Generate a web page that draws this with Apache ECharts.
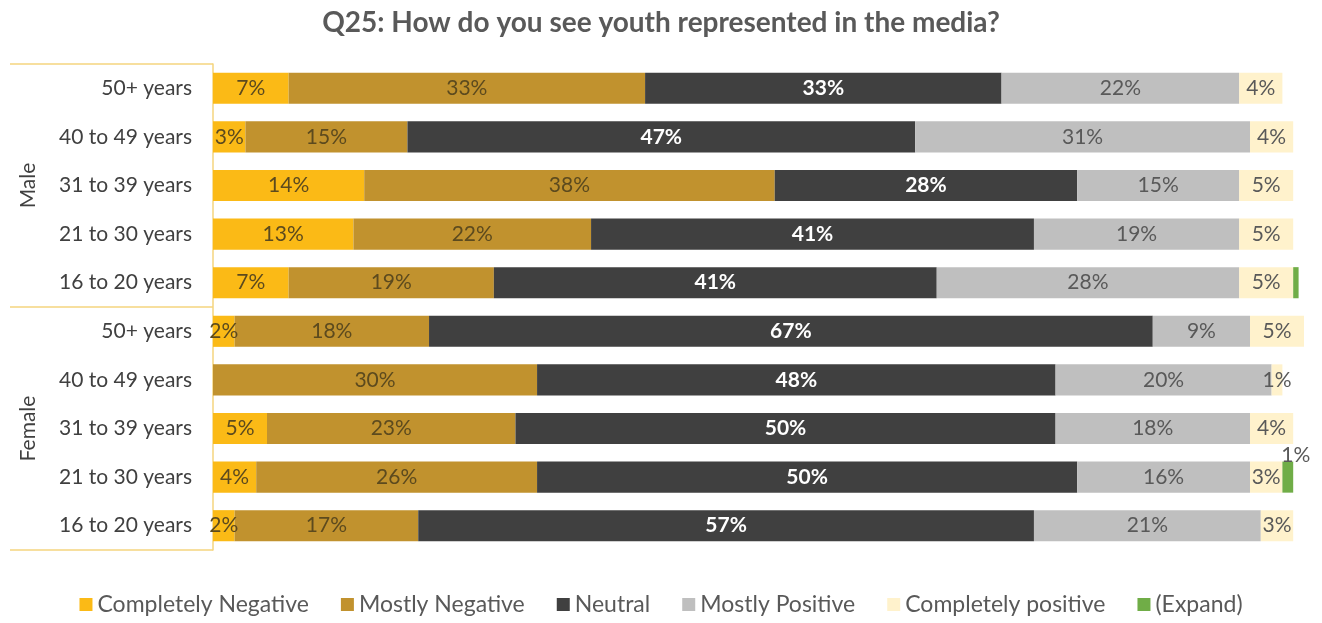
<!DOCTYPE html>
<html>
<head>
<meta charset="utf-8">
<script src="https://cdn.jsdelivr.net/npm/echarts@6/dist/echarts.min.js"></script>
<style>
  html, body { margin: 0; padding: 0; background: #fff; }
  #chart { width: 1322px; height: 623px; }
</style>
</head>
<body>
<div id="chart"></div>
<script>
// Age bands, top to bottom (Male block, then Female block)
const ageLabels = [
  '50+ years', '40 to 49 years', '31 to 39 years', '21 to 30 years', '16 to 20 years',
  '50+ years', '40 to 49 years', '31 to 39 years', '21 to 30 years', '16 to 20 years'
];
const groups = ['Male', 'Female'];

// Share of respondents (%) per answer, same row order as ageLabels
const completelyNegative = [7, 3, 14, 13, 7, 2, 0, 5, 4, 2];
const mostlyNegative     = [33, 15, 38, 22, 19, 18, 30, 23, 26, 17];
const neutral            = [33, 47, 28, 41, 41, 67, 48, 50, 50, 57];
const mostlyPositive     = [22, 31, 15, 19, 28, 9, 20, 18, 16, 21];
const completelyPositive = [4, 4, 5, 5, 5, 5, 1, 4, 3, 3];
const expand             = [0, 0, 0, 0, 0.5, 0, 0, 0, 1, 0];
const expandLabelled     = [false, false, false, false, false, false, false, false, true, false];

const FONT = 'Lato, "Open Sans", sans-serif';
const gold = '#F5D47E';

function pct(p) { return p.value ? p.value + '%' : ''; }

function segment(name, data, color, labelColor, bold) {
  return {
    name: name,
    type: 'bar',
    stack: 'total',
    data: data,
    barCategoryGap: '36%',
    itemStyle: { color: color },
    label: {
      show: true,
      position: 'inside',
      formatter: pct,
      color: labelColor,
      fontFamily: FONT,
      fontSize: 21,
      fontWeight: bold ? 'bold' : 'normal'
    },
    emphasis: { disabled: true }
  };
}

const chart = echarts.init(document.getElementById('chart'));
chart.setOption({
  animation: false,
  title: {
    text: 'Q25: How do you see youth represented in the media?',
    left: 656,
    textAlign: 'center',
    top: 4,
    textStyle: { fontFamily: FONT, fontSize: 28, fontWeight: 'bold', color: '#595959' }
  },
  legend: {
    bottom: 2,
    left: 'center',
    itemWidth: 13,
    itemHeight: 13,
    itemGap: 32,
    icon: 'rect',
    textStyle: { fontFamily: FONT, fontSize: 23, color: '#595959' },
    data: ['Completely Negative', 'Mostly Negative', 'Neutral', 'Mostly Positive', 'Completely positive', '(Expand)']
  },
  grid: [
    { left: 213, top: 64, height: 486, width: 1091 },
    { left: 10, top: 64, height: 486, width: 203 }
  ],
  xAxis: [
    { gridIndex: 0, type: 'value', min: 0, max: 101, show: false },
    { gridIndex: 1, type: 'value', min: 0, max: 1, show: false }
  ],
  yAxis: [
    {
      gridIndex: 0,
      type: 'category',
      inverse: true,
      data: ageLabels,
      axisLine: { show: true, lineStyle: { color: gold, width: 1.5 } },
      axisTick: { show: false },
      axisLabel: { fontFamily: FONT, fontSize: 21, color: '#404040', margin: 21 }
    },
    {
      gridIndex: 1,
      type: 'category',
      inverse: true,
      data: groups,
      axisLine: { show: false },
      axisTick: { show: false },
      splitLine: { show: true, lineStyle: { color: gold, width: 1.5 } },
      axisLabel: {
        inside: true,
        rotate: 90,
        margin: 8,
        fontFamily: FONT,
        fontSize: 21,
        color: '#404040'
      }
    }
  ],
  series: [
    segment('Completely Negative', completelyNegative, '#FBBA16', '#5C4A1E', false),
    segment('Mostly Negative', mostlyNegative, '#C1922E', '#5C4A1E', false),
    segment('Neutral', neutral, '#404040', '#FFFFFF', true),
    segment('Mostly Positive', mostlyPositive, '#BFBFBF', '#595959', false),
    segment('Completely positive', completelyPositive, '#FFF2CC', '#595959', false),
    {
      name: '(Expand)',
      type: 'bar',
      stack: 'total',
      data: expand.map((v, i) => ({
        value: v,
        label: { show: expandLabelled[i] }
      })),
      itemStyle: { color: '#70AD47' },
      label: {
        position: 'top',
        distance: -4,
        offset: [8, 0],
        formatter: pct,
        color: '#595959',
        fontFamily: FONT,
        fontSize: 21
      },
      emphasis: { disabled: true }
    }
  ]
});
</script>
</body>
</html>
